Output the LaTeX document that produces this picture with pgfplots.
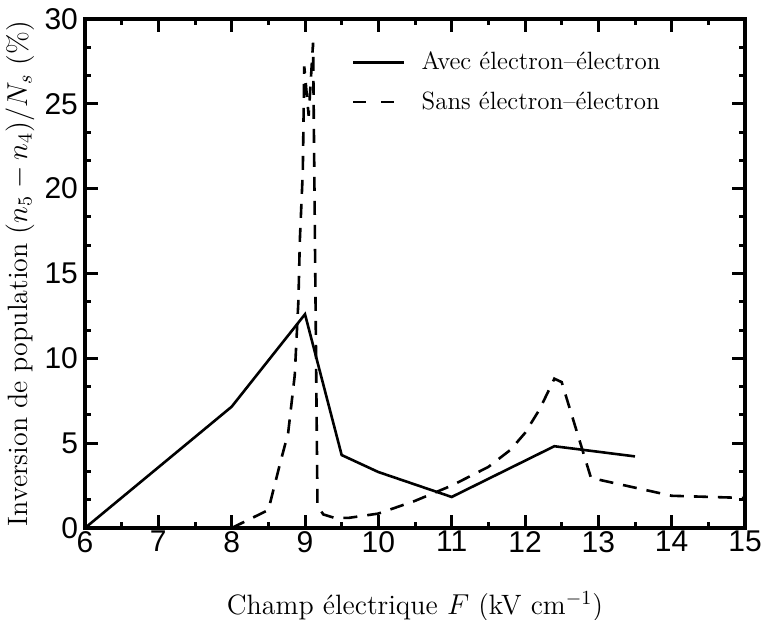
\documentclass[border=0pt]{standalone}
\usepackage{fontspec}
\usepackage{pgfplots}
\pgfplotsset{compat=1.18}
\newfontfamily\tickfont{Liberation Sans}
\begin{document}
\begin{tikzpicture}
\begin{axis}[
 name=ax,
 scale only axis,
 width=330pt, height=254.5pt,
 xmin=6, xmax=15, ymin=0, ymax=30,
 xtick={6,...,15}, ytick={0,5,...,30},
 minor x tick num=1, minor y tick num=2,
 tick align=inside,
 xtick pos=both, ytick pos=both,
 major tick length=6.5pt, minor tick length=3.2pt,
 every tick/.style={black, line width=1.5pt},
 axis line style={line width=1.7pt},
 /pgf/number format/assume math mode=true,
 ticklabel style={font=\tickfont\fontsize{15}{15}\selectfont},
 xticklabel style={yshift=2pt},
 xlabel={Champ électrique $F$ (kV cm$^{-1}$)},
 ylabel={Inversion de population $(n_5-n_4)/N_s$ (\%)},
 label style={font=\fontsize{14}{16}\selectfont},
 xlabel style={at={(axis description cs:0.5,-0.154)}, anchor=center},
 ylabel style={at={(axis description cs:-0.0985,0.5)}, anchor=center},
 legend image code/.code={\draw[#1] (0pt,0pt) -- (25.5pt,0pt);},
 legend style={draw=none, fill=none, at={(rel axis cs:0.395,0.952)}, anchor=north west, font=\fontsize{12.5}{14}\selectfont, row sep=5.5pt,
   /tikz/every odd column/.append style={column sep=6pt}},
 legend cell align=left,
]
\addlegendimage{line width=1.3pt}
\addlegendimage{line width=1.3pt, dash pattern=on 6.5pt off 7.5pt}
\addplot[line width=1.3pt] coordinates {(6,0)(8,7.15)(9,12.6)(9.5,4.3)(10,3.3)(11,1.83)(12.4,4.82)(13.5,4.22)};
\addplot[line width=1.3pt, dash pattern=on 7pt off 5pt] coordinates {(8,0)(8.5,1.06)(8.66,3.8)(8.77,5.6)(8.86,9)(8.91,13.4)(8.93,17)(8.97,21)(8.99,27.2)(9.05,24.3)(9.11,28.6)(9.17,1.3)(9.25,0.8)(9.4,0.6)(9.6,0.6)(10,0.85)(10.5,1.6)(11,2.5)(11.5,3.6)(11.8,4.6)(12,5.6)(12.2,7.0)(12.4,8.8)(12.5,8.6)(12.9,2.95)(14,1.9)(15,1.77)};
\legend{Avec électron--électron, Sans électron--électron}
\end{axis}
\pgfresetboundingbox
\path[use as bounding box] ([xshift=-42.5pt,yshift=-45.5pt]ax.south west) rectangle ([xshift=9.5pt,yshift=9.5pt]ax.north east);
\end{tikzpicture}
\end{document}
